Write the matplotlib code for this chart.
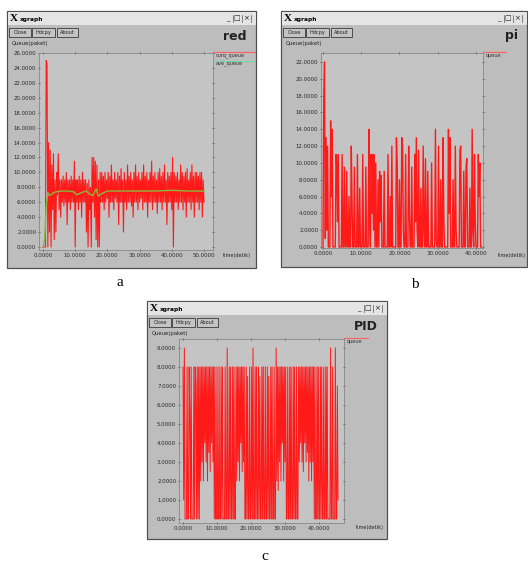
import matplotlib.pyplot as plt
import numpy as np
from matplotlib.patches import Rectangle

# --- data ---

# panel a (red): queue length every 0.25 s
a_step = 0.25
a_curq = [0, 0, 0, 0, 25, 24.5, 0, 14, 2, 13, 0, 11, 5, 12.5, 1, 9,
          2, 10, 7, 12.5, 5, 9, 4, 9, 6, 9.5, 5.5, 9, 6, 10, 3, 9,
          6, 9, 5, 9.5, 6, 9, 6, 11.5, 0, 9, 6, 9, 5, 9.5, 6, 9,
          4, 10, 6, 9, 6, 9, 2, 8.5, 0, 9, 5, 8, 0, 12, 6, 12,
          4, 11.5, 1, 11, 0, 9, 0, 10, 6, 10, 6, 9.5,
          5, 10, 6, 9, 6.5, 10, 4, 9.5,
          6, 11, 6, 9, 5, 10, 6.5, 9,
          6, 10, 3, 9.5, 6, 10.5, 6, 9,
          2, 10, 6, 9, 5, 11, 6, 9.5,
          6, 10, 5.5, 9, 4, 10, 6, 11,
          6, 9.5, 5, 10, 6, 9, 6.5, 10,
          5, 11, 6, 9.5, 6, 10, 4, 9,
          6, 10, 6, 11.5, 5, 9.5, 6, 10,
          6, 9, 4.5, 10, 6, 10.5, 6, 9.5,
          5, 10, 6, 11, 6, 9, 3, 10,
          6, 9.5, 6, 10, 5, 12, 0, 10,
          6, 9.5, 6, 10, 5, 9, 6, 11,
          6, 10, 5, 9.5, 6, 10, 4, 10.5,
          6, 9, 6, 10, 5, 11, 6, 9.5,
          4, 10, 6, 10, 6, 9.5, 5, 10,
          6, 10, 4, 9, 6]
a_ave_t = [0, 0.5, 1.0, 1.5, 2.0, 2.5, 3, 4, 6, 8, 9.5, 10.5, 12, 13.5,
           14.5, 15.5, 16.5, 17.2, 18, 19, 20, 25, 30, 35, 40, 45, 50]
a_ave_q = [0, 1.0, 5.5, 7.3, 6.9, 7.0, 7.2, 7.4, 7.5, 7.5, 7.4, 7.0, 7.3, 7.5,
           7.1, 6.9, 7.8, 6.8, 7.1, 7.3, 7.5, 7.5, 7.5, 7.5, 7.6, 7.5, 7.5]

# panel b (pi): queue length every 0.2 s
b_step = 0.2
b_queue = [0, 17.5, 22, 1, 13, 2, 12, 0, 0, 0,
           15, 6, 14, 0, 0, 0, 0, 11, 9.5, 3,
           11, 0, 0, 0, 0, 11, 0, 0, 9.5, 0,
           0, 9, 0, 0, 6, 0, 0, 12, 5, 0,
           0, 9.5, 0, 0, 0, 11, 0, 0, 7, 0,
           0, 0, 11, 0, 0, 0, 9.5, 0, 0, 0,
           14, 3, 0, 11, 4, 11, 2, 11, 0, 10,
           0, 0, 8, 0, 9, 3, 8.5, 0, 0, 0,
           9, 0, 0, 0, 0, 11, 0, 0, 6, 0,
           12, 0, 0, 0, 0, 0, 13, 10, 0, 0,
           8, 0, 0, 13, 12, 2, 0, 0, 11, 0,
           0, 0, 12, 4, 0, 0, 9.5, 0, 0, 0,
           11, 3, 13, 2, 0, 11.5, 0, 0, 7, 0,
           0, 12, 2, 0, 10.5, 0, 0, 9, 0, 0,
           0, 0, 10, 0, 0, 0, 0, 14, 1, 0,
           0, 12, 0, 0, 8, 0, 0, 13, 3, 0,
           0, 0, 0, 0, 14, 4, 13, 0, 0, 0,
           8, 0, 0, 12, 2, 0, 0, 0, 0, 11.5,
           12, 0, 0, 0, 9, 0, 0, 9.5, 10.5, 0,
           0, 0, 7, 0, 0, 14, 2, 0, 11, 3,
           0, 0, 0, 11, 6, 10, 0, 0]

# panel c (PID): queue length every 0.2 s
c_step = 0.2
c_queue = [8, 1, 9, 0, 0, 0, 8, 0, 0, 8,
           5.5, 0, 8, 0, 0, 0, 8, 0, 8, 7,
           0, 8, 0, 8, 0, 8, 2, 8, 3, 8,
           2, 8, 4, 8, 3, 8, 2, 8, 3.5, 8,
           2.5, 8, 4, 8, 3, 8, 0, 8, 0, 0,
           8, 0, 0, 8, 0, 0, 8, 0, 8, 0,
           0, 0, 8, 0, 0, 9, 0, 0, 8, 0,
           8, 0, 0, 8, 0, 8, 0, 0, 8, 2,
           8, 3, 8, 2, 8, 4, 8, 2.5, 8, 3,
           8, 0, 0, 8, 0, 7.5, 0, 0, 8, 0,
           0, 8, 0, 9, 0, 0, 8, 0, 8, 0,
           0, 8, 0, 7.5, 0, 0, 8, 0, 8, 0,
           0, 8, 0, 0, 8, 0, 7.5, 0, 0, 8,
           0, 8, 0, 0, 8, 0, 0, 9, 2, 8,
           1.5, 8, 3, 8, 2, 8, 4, 8, 2, 8,
           3, 8, 0, 0, 8, 0, 0, 8, 0, 8,
           0, 0, 8, 0, 8, 0, 0, 8, 0, 0,
           8, 3, 8, 4, 8, 3, 8, 2.5, 8, 4,
           8, 3, 8, 3.5, 8, 2, 8, 3, 8, 2,
           8, 3, 8, 0, 8, 0, 0, 8, 0, 8,
           0, 0, 8, 0, 8, 0, 0, 8, 0, 0,
           8, 0, 8, 0, 0, 0, 0, 9, 0, 0,
           8, 0, 0, 0, 9, 0, 0, 7, 1]

W, H = 528, 565
RED = '#ff1a1a'

fig = plt.figure(figsize=(W / 100, H / 100), dpi=100)
fig.patch.set_facecolor('white')
bg = fig.add_axes([0, 0, 1, 1])
bg.set_xlim(0, W)
bg.set_ylim(H, 0)
bg.axis('off')


def frac(x0, y0, x1, y1):
    return [x0 / W, 1 - y1 / H, (x1 - x0) / W, (y1 - y0) / H]


def window(x0, y0, x1, y1, title):
    bg.add_patch(Rectangle((x0, y0), x1 - x0, y1 - y0, fc='#bdbdbd', ec='#505050', lw=0.9))
    bg.add_patch(Rectangle((x0 + 0.5, y0 + 0.5), x1 - x0 - 1, 13, fc='#e4e4e4', ec='none'))
    bg.text(x0 + 3, y0 + 7.5, 'X', family='Liberation Serif', weight='bold', fontsize=8, va='center')
    bg.text(x0 + 13, y0 + 8, 'xgraph', fontsize=4.2, weight='bold', va='center')
    # minimise / maximise / close
    for i, g in enumerate(['_', '□', '×']):
        cx = x1 - 28 + i * 9
        bg.text(cx, y0 + 7.5, g, fontsize=5, ha='center', va='center', color='#222')
        bg.plot([cx + 4.5, cx + 4.5], [y0 + 4, y0 + 11], color='#555', lw=0.5)
    for label, bx, bw in [('Close', 2, 22), ('Hdcpy', 25, 23), ('About', 50, 21)]:
        bg.add_patch(Rectangle((x0 + bx, y0 + 17), bw, 9, fc='#c4c4c4', ec='#3a3a3a', lw=0.6))
        bg.text(x0 + bx + bw / 2, y0 + 21.5, label, fontsize=3.6, ha='center', va='center', color='#222')
    bg.text(x0 + 5, y0 + 32, 'Queue(paket)', fontsize=3.8, va='center', color='#222')
    bg.text(x1 - 9, y0 + 25, title, fontsize=9, weight='bold', ha='right', va='center', color='#222')


def plot_area(rect, xlim, ylim, yticks):
    ax = fig.add_axes(frac(*rect))
    ax.set_facecolor('#c4c4c4')
    ax.set_xlim(xlim)
    ax.set_ylim(ylim)
    ax.set_xticks([0, 10, 20, 30, 40, 50] if xlim[1] > 50 else [0, 10, 20, 30, 40])
    ax.set_yticks(yticks)
    ax.xaxis.set_major_formatter('{x:.4f}')
    ax.yaxis.set_major_formatter('{x:.4f}')
    ax.tick_params(labelsize=3.9, length=2, width=0.5, colors='#2a2a2a', pad=1,
                   top=True, right=True, direction='inout')
    for s in ax.spines.values():
        s.set_color('#888888')
        s.set_linewidth(0.6)
    return ax


def legend(x0, x1, y, label, color):
    bg.plot([x0, x1], [y, y], color=color, lw=0.8)
    bg.text(x0 + 3, y + 3, label, fontsize=3.6, va='center', color='#333')


# panel a
window(7, 11, 256, 268, 'red')
ax_a = plot_area((39, 53, 213, 250), (-1.24, 52.8), (-0.4, 26), np.arange(0, 27, 2))
ax_a.plot(np.arange(len(a_curq)) * a_step, a_curq, color=RED, lw=0.8)
ax_a.plot(a_ave_t, a_ave_q, color='#8cb83a', lw=1.0)
legend(213, 255, 52, 'curq_queue', '#ff6060')
legend(213, 255, 61, 'ave_queue', '#70d8a0')
bg.text(237, 256, 'time(detik)', fontsize=3.6, ha='center', va='center', color='#222')
bg.text(120, 283, 'a', family='Liberation Serif', fontsize=11, ha='center', va='center')

# panel b
window(281, 11, 527, 267, 'pi')
ax_b = plot_area((321, 53, 483, 248), (-0.52, 41.83), (-0.12, 23.07), np.arange(0, 23, 2))
ax_b.plot(np.arange(len(b_queue)) * b_step, b_queue, color=RED, lw=1.0)
legend(483, 506, 52, 'queue', '#ff6060')
bg.text(512, 256, 'time(detik)', fontsize=3.6, ha='center', va='center', color='#222')
bg.text(415, 284, 'b', family='Liberation Serif', fontsize=11, ha='center', va='center')

# panel c
window(147, 301, 387, 539, 'PID')
ax_c = plot_area((179, 339, 344, 523), (-1.18, 47.35), (-0.21, 9.47), np.arange(0, 10, 1))
ax_c.plot(np.arange(len(c_queue)) * c_step, c_queue, color=RED, lw=0.7)
legend(344, 368, 338, 'queue', '#ff6060')
bg.text(370, 527, 'time(detik)', fontsize=3.6, ha='center', va='center', color='#222')
bg.text(265, 556, 'c', family='Liberation Serif', fontsize=11, ha='center', va='center')

fig.savefig('out.png', dpi=100)
